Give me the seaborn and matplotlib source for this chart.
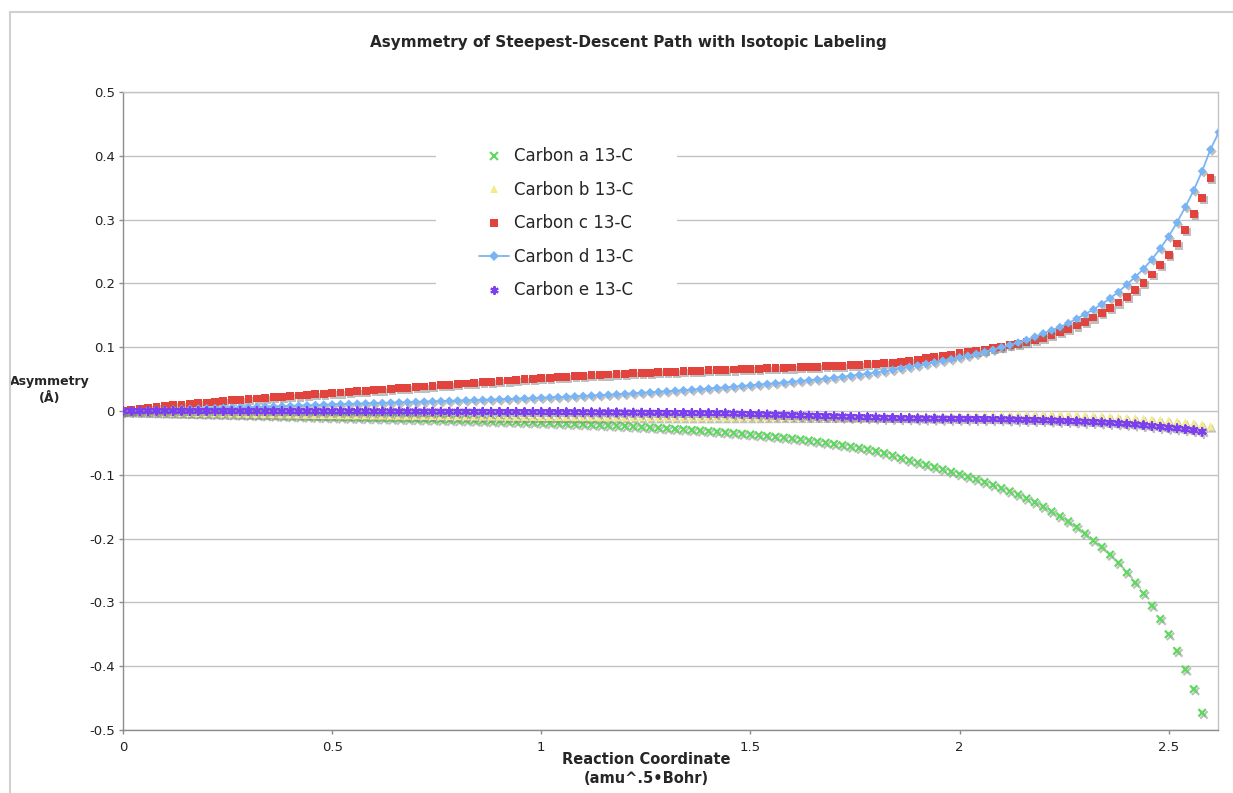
import numpy as np
import matplotlib
matplotlib.use('Agg')
import matplotlib.pyplot as plt
import matplotlib.patheffects as pe
from matplotlib.lines import Line2D
from matplotlib.patches import Rectangle
import seaborn as sns

nan = np.nan

# Coordenada de reaccion (amu^.5 Bohr)
coord = [0.00, 0.02, 0.04, 0.06, 0.08, 0.10, 0.12, 0.14, 0.16, 0.18,
         0.20, 0.22, 0.24, 0.26, 0.28, 0.30, 0.32, 0.34, 0.36, 0.38,
         0.40, 0.42, 0.44, 0.46, 0.48, 0.50, 0.52, 0.54, 0.56, 0.58,
         0.60, 0.62, 0.64, 0.66, 0.68, 0.70, 0.72, 0.74, 0.76, 0.78,
         0.80, 0.82, 0.84, 0.86, 0.88, 0.90, 0.92, 0.94, 0.96, 0.98,
         1.00, 1.02, 1.04, 1.06, 1.08, 1.10, 1.12, 1.14, 1.16, 1.18,
         1.20, 1.22, 1.24, 1.26, 1.28, 1.30, 1.32, 1.34, 1.36, 1.38,
         1.40, 1.42, 1.44, 1.46, 1.48, 1.50, 1.52, 1.54, 1.56, 1.58,
         1.60, 1.62, 1.64, 1.66, 1.68, 1.70, 1.72, 1.74, 1.76, 1.78,
         1.80, 1.82, 1.84, 1.86, 1.88, 1.90, 1.92, 1.94, 1.96, 1.98,
         2.00, 2.02, 2.04, 2.06, 2.08, 2.10, 2.12, 2.14, 2.16, 2.18,
         2.20, 2.22, 2.24, 2.26, 2.28, 2.30, 2.32, 2.34, 2.36, 2.38,
         2.40, 2.42, 2.44, 2.46, 2.48, 2.50, 2.52, 2.54, 2.56, 2.58,
         2.60, 2.62]

carbon_a = [0.0000, -0.0003, -0.0007, -0.0011, -0.0015, -0.0019, -0.0023, -0.0027, -0.0031, -0.0035,
            -0.0039, -0.0043, -0.0047, -0.0051, -0.0055, -0.0059, -0.0063, -0.0067, -0.0071, -0.0075,
            -0.0079, -0.0083, -0.0087, -0.0091, -0.0095, -0.0098, -0.0101, -0.0104, -0.0107, -0.0110,
            -0.0113, -0.0116, -0.0119, -0.0122, -0.0125, -0.0128, -0.0131, -0.0134, -0.0137, -0.0140,
            -0.0143, -0.0146, -0.0150, -0.0154, -0.0158, -0.0162, -0.0166, -0.0170, -0.0174, -0.0178,
            -0.0182, -0.0187, -0.0192, -0.0197, -0.0202, -0.0207, -0.0212, -0.0218, -0.0224, -0.0230,
            -0.0236, -0.0243, -0.0250, -0.0257, -0.0264, -0.0272, -0.0280, -0.0288, -0.0297, -0.0306,
            -0.0315, -0.0325, -0.0335, -0.0345, -0.0356, -0.0367, -0.0379, -0.0391, -0.0404, -0.0417,
            -0.0431, -0.0446, -0.0462, -0.0479, -0.0497, -0.0516, -0.0536, -0.0557, -0.0578, -0.0601,
            -0.0628, -0.0661, -0.0698, -0.0738, -0.0775, -0.0810, -0.0845, -0.0880, -0.0915, -0.0952,
            -0.0990, -0.1030, -0.1070, -0.1115, -0.1160, -0.1210, -0.1260, -0.1310, -0.1370, -0.1430,
            -0.1500, -0.1575, -0.1650, -0.1730, -0.1820, -0.1920, -0.2030, -0.2130, -0.2250, -0.2380,
            -0.2530, -0.2690, -0.2860, -0.3050, -0.3260, -0.3500, -0.3760, -0.4050, -0.4360, -0.4730,
            nan, nan]

carbon_b = [0.0000, -0.0004, -0.0008, -0.0012, -0.0015, -0.0018, -0.0021, -0.0024, -0.0027, -0.0030,
            -0.0032, -0.0034, -0.0036, -0.0038, -0.0040, -0.0042, -0.0044, -0.0046, -0.0048, -0.0050,
            -0.0052, -0.0054, -0.0056, -0.0058, -0.0060, -0.0061, -0.0063, -0.0064, -0.0065, -0.0066,
            -0.0068, -0.0069, -0.0070, -0.0071, -0.0073, -0.0074, -0.0075, -0.0076, -0.0078, -0.0079,
            -0.0080, -0.0081, -0.0083, -0.0084, -0.0085, -0.0086, -0.0088, -0.0089, -0.0090, -0.0090,
            -0.0091, -0.0091, -0.0092, -0.0092, -0.0093, -0.0093, -0.0094, -0.0094, -0.0094, -0.0095,
            -0.0095, -0.0095, -0.0095, -0.0096, -0.0096, -0.0096, -0.0096, -0.0096, -0.0096, -0.0096,
            -0.0096, -0.0095, -0.0095, -0.0095, -0.0094, -0.0094, -0.0094, -0.0093, -0.0093, -0.0092,
            -0.0092, -0.0091, -0.0091, -0.0090, -0.0090, -0.0089, -0.0088, -0.0088, -0.0087, -0.0086,
            -0.0086, -0.0085, -0.0084, -0.0083, -0.0082, -0.0080, -0.0079, -0.0078, -0.0076, -0.0074,
            -0.0072, -0.0070, -0.0068, -0.0066, -0.0064, -0.0062, -0.0060, -0.0057, -0.0055, -0.0053,
            -0.0054, -0.0056, -0.0059, -0.0063, -0.0068, -0.0073, -0.0078, -0.0083, -0.0091, -0.0099,
            -0.0107, -0.0115, -0.0122, -0.0130, -0.0140, -0.0150, -0.0163, -0.0177, -0.0190, -0.0210,
            -0.0240, nan]

carbon_c = [0.0000, 0.0020, 0.0040, 0.0055, 0.0067, 0.0078, 0.0089, 0.0100, 0.0112, 0.0123,
            0.0134, 0.0145, 0.0156, 0.0166, 0.0176, 0.0186, 0.0196, 0.0206, 0.0215, 0.0224,
            0.0233, 0.0242, 0.0251, 0.0260, 0.0270, 0.0280, 0.0289, 0.0299, 0.0308, 0.0318,
            0.0327, 0.0337, 0.0346, 0.0356, 0.0365, 0.0375, 0.0384, 0.0394, 0.0403, 0.0413,
            0.0422, 0.0432, 0.0441, 0.0450, 0.0459, 0.0468, 0.0477, 0.0487, 0.0496, 0.0506,
            0.0514, 0.0522, 0.0530, 0.0538, 0.0545, 0.0552, 0.0559, 0.0566, 0.0572, 0.0578,
            0.0584, 0.0590, 0.0596, 0.0601, 0.0607, 0.0612, 0.0617, 0.0622, 0.0627, 0.0632,
            0.0637, 0.0641, 0.0646, 0.0650, 0.0655, 0.0659, 0.0663, 0.0668, 0.0672, 0.0677,
            0.0681, 0.0686, 0.0691, 0.0696, 0.0700, 0.0704, 0.0710, 0.0717, 0.0724, 0.0732,
            0.0740, 0.0749, 0.0759, 0.0771, 0.0788, 0.0806, 0.0825, 0.0845, 0.0865, 0.0885,
            0.0905, 0.0924, 0.0944, 0.0964, 0.0984, 0.1006, 0.1028, 0.1055, 0.1083, 0.1114,
            0.1150, 0.1190, 0.1235, 0.1285, 0.1340, 0.1400, 0.1465, 0.1537, 0.1615, 0.1700,
            0.1792, 0.1895, 0.2010, 0.2140, 0.2290, 0.2450, 0.2625, 0.2840, 0.3085, 0.3345,
            0.3650, nan]

carbon_d = [0.0000, 0.0004, 0.0008, 0.0012, 0.0016, 0.0020, 0.0024, 0.0028, 0.0032, 0.0036,
            0.0040, 0.0044, 0.0048, 0.0052, 0.0056, 0.0060, 0.0064, 0.0068, 0.0072, 0.0076,
            0.0080, 0.0084, 0.0089, 0.0094, 0.0099, 0.0103, 0.0107, 0.0111, 0.0115, 0.0119,
            0.0123, 0.0127, 0.0131, 0.0135, 0.0139, 0.0143, 0.0147, 0.0151, 0.0155, 0.0159,
            0.0163, 0.0167, 0.0171, 0.0175, 0.0179, 0.0183, 0.0188, 0.0193, 0.0198, 0.0203,
            0.0208, 0.0213, 0.0218, 0.0224, 0.0230, 0.0236, 0.0242, 0.0248, 0.0255, 0.0262,
            0.0269, 0.0277, 0.0285, 0.0293, 0.0301, 0.0309, 0.0318, 0.0326, 0.0335, 0.0343,
            0.0352, 0.0361, 0.0370, 0.0380, 0.0391, 0.0402, 0.0413, 0.0424, 0.0435, 0.0446,
            0.0458, 0.0470, 0.0482, 0.0494, 0.0507, 0.0521, 0.0535, 0.0550, 0.0566, 0.0583,
            0.0602, 0.0622, 0.0644, 0.0667, 0.0691, 0.0714, 0.0738, 0.0762, 0.0787, 0.0813,
            0.0840, 0.0866, 0.0895, 0.0925, 0.0960, 0.0998, 0.1033, 0.1072, 0.1113, 0.1163,
            0.1216, 0.1265, 0.1315, 0.1378, 0.1445, 0.1518, 0.1592, 0.1675, 0.1768, 0.1865,
            0.1985, 0.2100, 0.2228, 0.2375, 0.2550, 0.2735, 0.2955, 0.3200, 0.3460, 0.3760,
            0.4100, 0.4370]

carbon_e = [0.0000, 0.0001, 0.0001, 0.0001, 0.0001, 0.0001, 0.0001, 0.0001, 0.0000, 0.0000,
            0.0000, 0.0000, 0.0000, -0.0001, -0.0001, -0.0001, -0.0001, -0.0002, -0.0002, -0.0002,
            -0.0002, -0.0003, -0.0003, -0.0003, -0.0004, -0.0004, -0.0004, -0.0005, -0.0005, -0.0005,
            -0.0006, -0.0006, -0.0007, -0.0007, -0.0008, -0.0008, -0.0009, -0.0009, -0.0010, -0.0010,
            -0.0011, -0.0011, -0.0012, -0.0012, -0.0013, -0.0013, -0.0014, -0.0014, -0.0015, -0.0016,
            -0.0016, -0.0017, -0.0018, -0.0018, -0.0019, -0.0020, -0.0021, -0.0022, -0.0022, -0.0023,
            -0.0024, -0.0025, -0.0026, -0.0027, -0.0028, -0.0029, -0.0030, -0.0031, -0.0032, -0.0033,
            -0.0034, -0.0035, -0.0036, -0.0040, -0.0043, -0.0047, -0.0050, -0.0054, -0.0058, -0.0061,
            -0.0065, -0.0069, -0.0072, -0.0076, -0.0080, -0.0083, -0.0087, -0.0091, -0.0094, -0.0098,
            -0.0101, -0.0105, -0.0108, -0.0112, -0.0114, -0.0116, -0.0117, -0.0118, -0.0119, -0.0120,
            -0.0121, -0.0122, -0.0123, -0.0125, -0.0127, -0.0129, -0.0131, -0.0134, -0.0137, -0.0140,
            -0.0144, -0.0148, -0.0152, -0.0157, -0.0162, -0.0167, -0.0172, -0.0178, -0.0185, -0.0193,
            -0.0201, -0.0210, -0.0222, -0.0235, -0.0248, -0.0260, -0.0271, -0.0285, -0.0300, -0.0325,
            nan, nan]

etiquetas = ['Carbon a 13-C', 'Carbon b 13-C', 'Carbon c 13-C', 'Carbon d 13-C', 'Carbon e 13-C']
x_ticks = [0, 0.5, 1, 1.5, 2, 2.5]
x_tick_labels = ['0', '0.5', '1', '1.5', '2', '2.5']
y_ticks = [-0.5, -0.4, -0.3, -0.2, -0.1, 0, 0.1, 0.2, 0.3, 0.4, 0.5]
y_tick_labels = ['-0.5', '-0.4', '-0.3', '-0.2', '-0.1', '0', '0.1', '0.2', '0.3', '0.4', '0.5']

# estilo de cada serie: color, marcador, tamano, relleno
colores = ['#5fd85f', '#f4ec8a', '#e2433d', '#79b5f4', '#7b3ef0']
marcadores = ['x', '^', 's', 'D', (6, 2, 0)]
tamanos = [28, 36, 32, 20, 30]
rellenos = [False, True, True, True, False]

sns.set_theme(style='white')
plt.rcParams['font.family'] = ['DejaVu Sans']

fig = plt.figure(figsize=(12.33, 7.93), dpi=100)
ax = fig.add_axes([123 / 1233, 1 - 730 / 793, 1095 / 1233, 638 / 793])

series = [carbon_a, carbon_b, carbon_c, carbon_d, carbon_e]
for i, serie in enumerate(series):
    if i == 3:
        # carbon d tiene linea
        sns.lineplot(x=coord, y=serie, color=colores[i], lw=1.3, ax=ax, zorder=3, legend=False)
    if rellenos[i]:
        sns.scatterplot(x=coord, y=serie, marker=marcadores[i], color=colores[i], s=tamanos[i],
                        linewidth=0, edgecolor='none', ax=ax, zorder=3, legend=False)
        sombra = [pe.SimplePatchShadow(offset=(1.3, -1.5), shadow_rgbFace='0.5', alpha=0.5), pe.Normal()]
    else:
        sns.scatterplot(x=coord, y=serie, marker=marcadores[i], color=colores[i], s=tamanos[i],
                        linewidth=1.6, ax=ax, zorder=3, legend=False)
        sombra = [pe.SimpleLineShadow(offset=(1.3, -1.5), shadow_color='0.5', alpha=0.5), pe.Normal()]
    ax.collections[-1].set_path_effects(sombra)

ax.set_xlim(0, 2.618)
ax.set_ylim(-0.5, 0.5)
ax.set_xticks(x_ticks)
ax.set_xticklabels(x_tick_labels)
ax.set_yticks(y_ticks)
ax.set_yticklabels(y_tick_labels)
ax.tick_params(axis='both', direction='out', length=3, width=1, color='#8c8c8c',
               labelsize=9.5, labelcolor='#222222', bottom=True, left=True)
ax.tick_params(axis='x', pad=5)
ax.tick_params(axis='y', pad=3)

ax.yaxis.grid(True, color='#c3c3c3', lw=1)
ax.xaxis.grid(False)
ax.set_axisbelow(True)
for lado, sp in ax.spines.items():
    sp.set_visible(True)
    sp.set_linewidth(1)
    sp.set_color('#8c8c8c' if lado in ('left', 'bottom') else '#c3c3c3')

ax.set_xlabel('Reaction Coordinate\n(amu^.5•Bohr)', fontsize=10.5, fontweight='bold',
              va='center', linespacing=1.35)
ax.xaxis.set_label_coords((646 - 123) / 1095, (730 - 769) / 638)
ax.set_ylabel('Asymmetry\n(Å)', fontsize=9, fontweight='bold', rotation=0,
              ha='center', va='center', linespacing=1.4)
ax.yaxis.set_label_coords((50 - 123) / 1095, (730 - 390) / 638)

fig.text(628 / 1233, 1 - 43 / 793, 'Asymmetry of Steepest-Descent Path with Isotopic Labeling',
         ha='center', va='center', fontsize=11, fontweight='bold')

# leyenda
manijas = []
for i in range(5):
    manijas.append(Line2D([], [], ls='-' if i == 3 else 'none', lw=1.3, color=colores[i],
                          marker=marcadores[i], markersize=6 if i != 3 else 5,
                          markeredgewidth=1.5 if not rellenos[i] else 0))
ley = ax.legend(manijas, etiquetas, loc='upper left', bbox_to_anchor=((436 - 123) / 1095, (730 - 104) / 638),
                fontsize=12, frameon=True, facecolor='white', edgecolor='none', framealpha=1,
                borderpad=2.6, labelspacing=0.93, handlelength=1.8, handletextpad=0.3, borderaxespad=0)
ley.set_zorder(2.5)

# marco del grafico
fig.patches.append(Rectangle((10 / 1233, -0.1), 1.2, 1.1 - 12 / 793, transform=fig.transFigure,
                             fill=False, edgecolor='#d0d0d0', lw=1.5))

fig.savefig('out.png', dpi=100)
